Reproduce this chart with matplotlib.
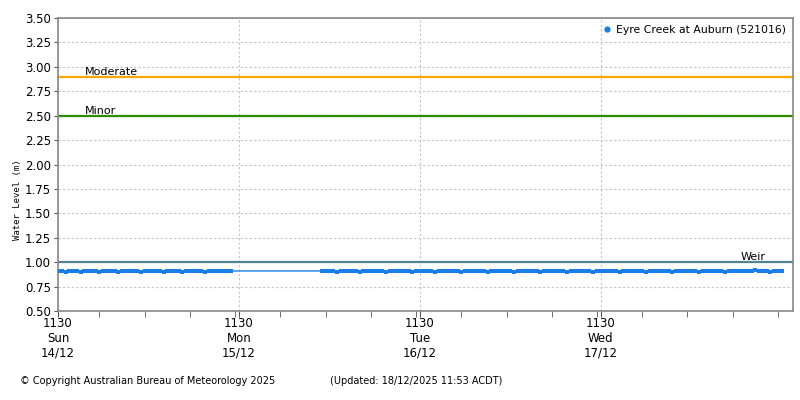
import numpy as np
import pandas as pd
import matplotlib
matplotlib.use('Agg')
import matplotlib.pyplot as plt
import matplotlib.dates as mdates

# readings every 30 min, gap in the record on Mon 15/12
seg1_start = '2025-12-14 11:30'
seg1_level = [0.91, 0.91, 0.90, 0.91, 0.91, 0.91, 0.90, 0.91, 0.91, 0.91,
              0.91, 0.90, 0.91, 0.91, 0.91, 0.91, 0.90, 0.91, 0.91, 0.91,
              0.91, 0.91, 0.90, 0.91, 0.91, 0.91, 0.91, 0.91, 0.90, 0.91,
              0.91, 0.91, 0.91, 0.90, 0.91, 0.91, 0.91, 0.91, 0.91, 0.90,
              0.91, 0.91, 0.91, 0.91, 0.91, 0.91, 0.91]
seg2_start = '2025-12-15 22:30'
seg2_level = [0.91, 0.91, 0.91, 0.91, 0.90, 0.91, 0.91, 0.91, 0.91, 0.91,
              0.90, 0.91, 0.91, 0.91, 0.91, 0.91, 0.91, 0.90, 0.91, 0.91,
              0.91, 0.91, 0.91, 0.91, 0.90, 0.91, 0.91, 0.91, 0.91, 0.91,
              0.90, 0.91, 0.91, 0.91, 0.91, 0.91, 0.91, 0.90, 0.91, 0.91,
              0.91, 0.91, 0.91, 0.91, 0.90, 0.91, 0.91, 0.91, 0.91, 0.91,
              0.91, 0.90, 0.91, 0.91, 0.91, 0.91, 0.91, 0.91, 0.90, 0.91,
              0.91, 0.91, 0.91, 0.91, 0.91, 0.90, 0.91, 0.91, 0.91, 0.91,
              0.91, 0.91, 0.90, 0.91, 0.91, 0.91, 0.91, 0.91, 0.91, 0.90,
              0.91, 0.91, 0.91, 0.91, 0.91, 0.91, 0.90, 0.91, 0.91, 0.91,
              0.91, 0.91, 0.91, 0.90, 0.91, 0.91, 0.91, 0.91, 0.91, 0.91,
              0.90, 0.91, 0.91, 0.91, 0.91, 0.91, 0.91, 0.90, 0.91, 0.91,
              0.91, 0.91, 0.91, 0.91, 0.91, 0.92, 0.91, 0.91, 0.91, 0.90,
              0.91, 0.91, 0.91]

thresholds = {'Moderate': 2.9, 'Minor': 2.5, 'Weir': 1.0}
threshold_colors = {'Moderate': '#ffa500', 'Minor': '#2e8b00', 'Weir': '#4f8590'}

tick_days = ['Sun', 'Mon', 'Tue', 'Wed']
tick_dates = ['14/12', '15/12', '16/12', '17/12']

t1 = pd.date_range(seg1_start, periods=len(seg1_level), freq='30min')
t2 = pd.date_range(seg2_start, periods=len(seg2_level), freq='30min')
times = t1.append(t2)
levels = seg1_level + seg2_level

plt.rcParams['font.family'] = 'DejaVu Sans'
plt.rcParams['font.size'] = 7.5

fig = plt.figure(figsize=(8, 4), dpi=100)
ax = fig.add_axes([0.0725, 0.2225, 0.91875, 0.7325])

x0 = pd.Timestamp(seg1_start)
x1 = x0 + pd.Timedelta(hours=97.5)
ax.set_xlim(x0, x1)
ax.set_ylim(0.5, 3.5)

for name, val in thresholds.items():
    ax.axhline(val, color=threshold_colors[name], lw=1.6, zorder=2)
ax.text(x0 + pd.Timedelta(hours=3.5), 2.9 + 0.02, 'Moderate', fontsize=8)
ax.text(x0 + pd.Timedelta(hours=3.5), 2.5 + 0.02, 'Minor', fontsize=8)
ax.text(x0 + pd.Timedelta(hours=90.5), 1.0 + 0.02, 'Weir', fontsize=8)

ax.plot(times, levels, color='#1a7ee8', lw=1, marker='s', ms=3.4, mew=0,
        zorder=3)
ax.plot([], [], ls='none', marker='o', ms=3.5, color='#1a7ee8',
        label='Eyre Creek at Auburn (521016)')
ax.legend(loc='upper right', frameon=False, fontsize=7.8, handletextpad=0.3,
          borderaxespad=0.25, handlelength=1)

ax.set_yticks(np.arange(0.5, 3.51, 0.25))
ax.yaxis.set_major_formatter(plt.FormatStrFormatter('%.2f'))
major = [x0 + pd.Timedelta(days=i) for i in range(4)]
ax.set_xticks(major)
ax.set_xticklabels(['1130\n%s\n%s' % (d, s) for d, s in zip(tick_days, tick_dates)],
                   linespacing=1.2)
ax.xaxis.set_minor_locator(mdates.HourLocator(byhour=[5, 11, 17, 23], interval=1))
ax.tick_params(axis='x', which='major', length=4, color='#555555', pad=0,
               labelsize=8.5)
ax.tick_params(axis='x', which='minor', length=4, color='#555555')
ax.tick_params(axis='y', length=3, color='#555555', labelsize=8.5, pad=2)

ax.grid(True, which='major', color='#c4c4c4', ls=(0, (2, 2)), lw=0.8)
for sp in ax.spines.values():
    sp.set_color('#888888')
    sp.set_linewidth(1.2)

fig.text(0.022, 0.5, 'Water Level (m)', rotation=90, va='center', ha='center',
         fontsize=6.5, family='DejaVu Sans Mono')
fig.text(0.025, 0.04, '\u00a9 Copyright Australian Bureau of Meteorology 2025',
         fontsize=7)
fig.text(0.412, 0.04, '(Updated: 18/12/2025 11:53 ACDT)', fontsize=7)

fig.savefig('out.png', dpi=100)
